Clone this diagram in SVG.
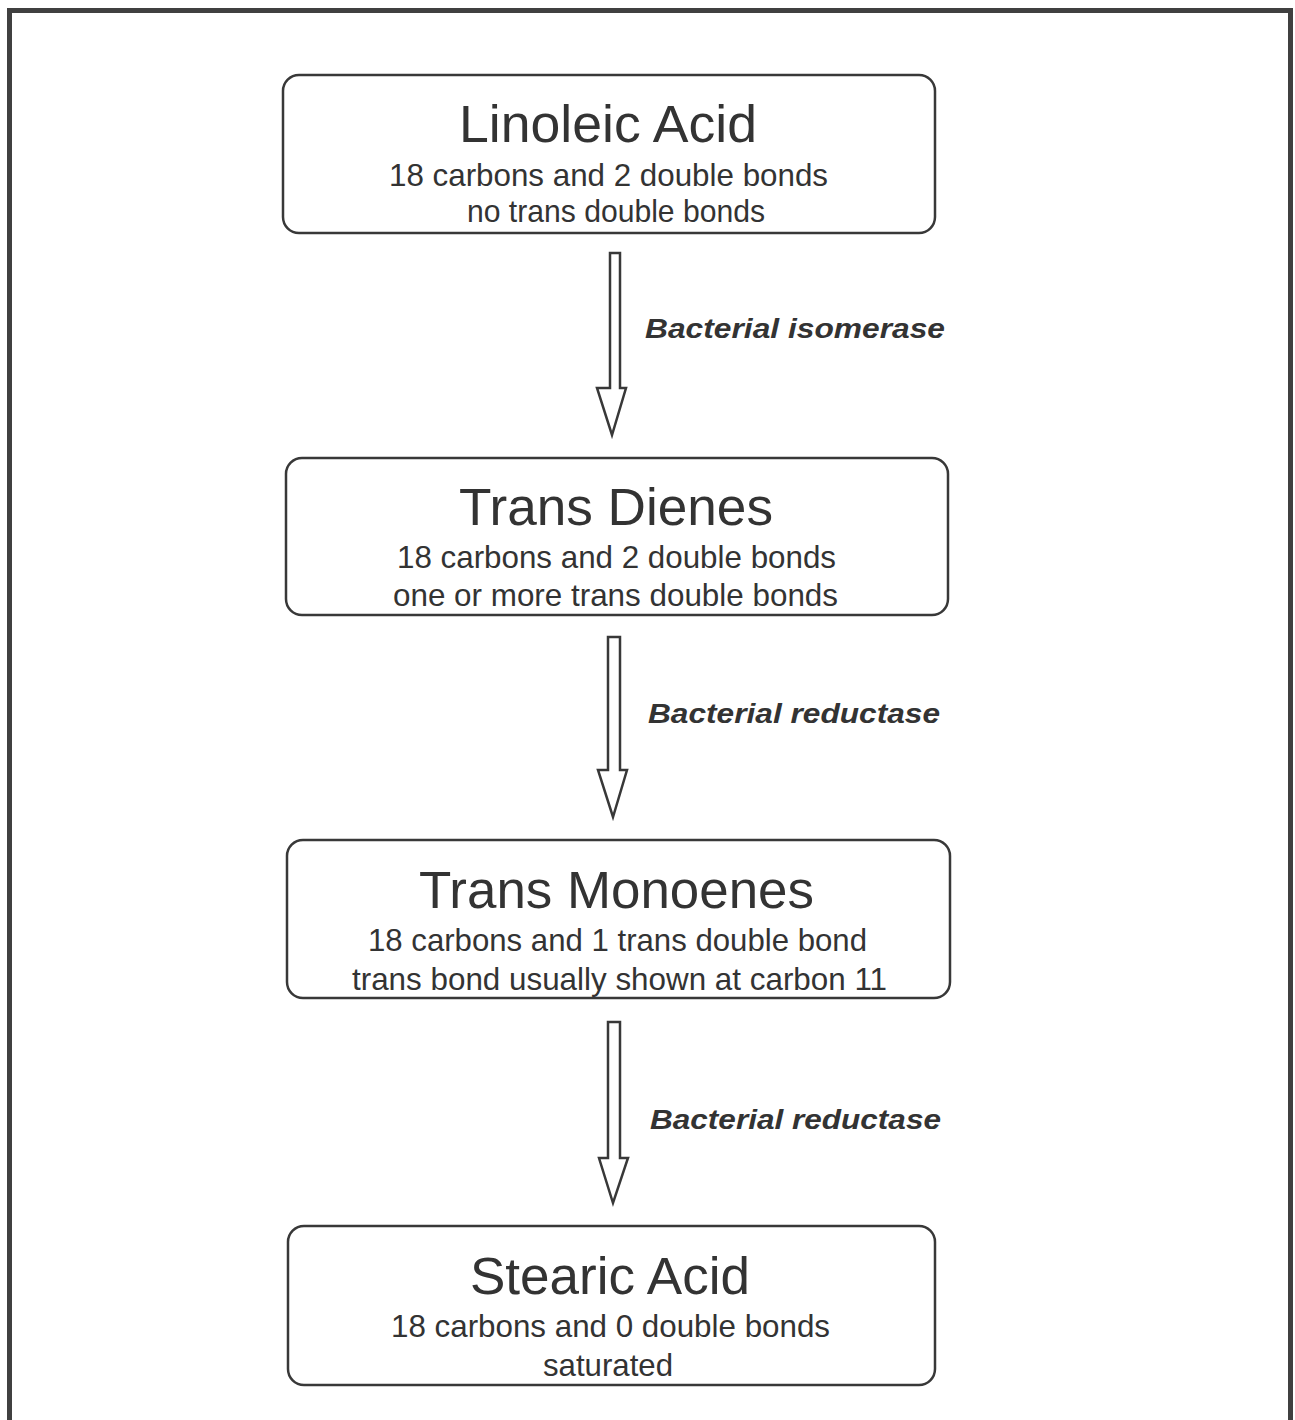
<svg xmlns="http://www.w3.org/2000/svg" width="1295" height="1420" viewBox="0 0 1295 1420">
<style>
.frame{fill:none;stroke:#404040;stroke-width:5}
.box{fill:#fff;stroke:#383838;stroke-width:2.5}
.title{font-family:"Liberation Sans",Arial,sans-serif;font-size:51px;fill:#333;text-anchor:middle}
.sub{font-family:"Liberation Sans",Arial,sans-serif;font-size:32px;fill:#333;text-anchor:middle}
.lbl{font-family:"Liberation Sans",Arial,sans-serif;font-size:27px;font-weight:bold;font-style:italic;fill:#333}
.arrow{fill:#fff;stroke:#383838;stroke-width:2.5;stroke-linejoin:miter}
</style>
<rect width="1295" height="1420" fill="#fff"/>
<rect class="frame" x="9.5" y="10.5" width="1281" height="1420"/>
<g id="linoleic">
<rect class="box" x="283" y="75" width="652" height="158" rx="16"/>
<text class="title" x="608" y="142" textLength="298" lengthAdjust="spacingAndGlyphs">Linoleic Acid</text>
<text class="sub" x="608.5" y="186" textLength="439" lengthAdjust="spacingAndGlyphs">18 carbons and 2 double bonds</text>
<text class="sub" x="616" y="222" textLength="298" lengthAdjust="spacingAndGlyphs">no trans double bonds</text>
</g>
<g id="trans-dienes">
<rect class="box" x="286" y="458" width="662" height="157" rx="16"/>
<text class="title" x="616" y="525" textLength="314" lengthAdjust="spacingAndGlyphs">Trans Dienes</text>
<text class="sub" x="616.5" y="568" textLength="439" lengthAdjust="spacingAndGlyphs">18 carbons and 2 double bonds</text>
<text class="sub" x="615.5" y="606" textLength="445" lengthAdjust="spacingAndGlyphs">one or more trans double bonds</text>
</g>
<g id="trans-monoenes">
<rect class="box" x="287" y="840" width="663" height="158" rx="16"/>
<text class="title" x="616.5" y="908" textLength="395" lengthAdjust="spacingAndGlyphs">Trans Monoenes</text>
<text class="sub" x="617.5" y="951" textLength="499" lengthAdjust="spacingAndGlyphs">18 carbons and 1 trans double bond</text>
<text class="sub" x="619.5" y="990" textLength="535" lengthAdjust="spacingAndGlyphs">trans bond usually shown at carbon 11</text>
</g>
<g id="stearic">
<rect class="box" x="288" y="1226" width="647" height="159" rx="16"/>
<text class="title" x="610" y="1294" textLength="280" lengthAdjust="spacingAndGlyphs">Stearic Acid</text>
<text class="sub" x="610.5" y="1337" textLength="439" lengthAdjust="spacingAndGlyphs">18 carbons and 0 double bonds</text>
<text class="sub" x="608" y="1376" textLength="130" lengthAdjust="spacingAndGlyphs">saturated</text>
</g>
<g id="connectors">
<path class="arrow" d="M610,253 H620 V388 H626 L612,435 L597,388 H610 Z"/>
<text class="lbl" x="645" y="338" textLength="300" lengthAdjust="spacingAndGlyphs">Bacterial isomerase</text>
<path class="arrow" d="M608,637 H620 V770 H627 L613,817 L598,770 H608 Z"/>
<text class="lbl" x="648" y="723" textLength="292" lengthAdjust="spacingAndGlyphs">Bacterial reductase</text>
<path class="arrow" d="M608,1022 H620 V1158 H628 L613,1203 L599,1158 H608 Z"/>
<text class="lbl" x="650" y="1129" textLength="291" lengthAdjust="spacingAndGlyphs">Bacterial reductase</text>
</g>
</svg>
